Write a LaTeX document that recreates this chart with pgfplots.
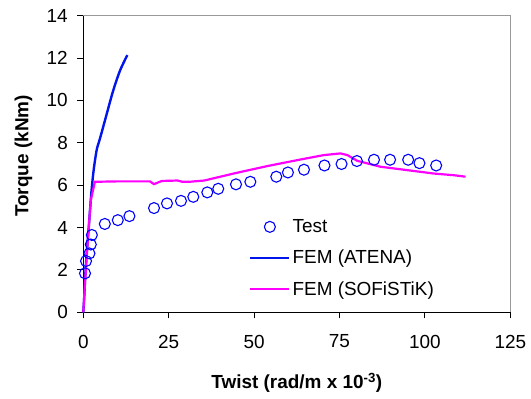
\documentclass[border=0pt]{standalone}
\usepackage{pgfplots}
\pgfplotsset{compat=1.18}
\usepackage{fontspec}
\setmainfont{Liberation Sans}
\definecolor{atena}{RGB}{0,20,235}
\definecolor{sofi}{RGB}{255,0,255}
\definecolor{testc}{RGB}{0,0,255}
\pgfplotsset{
  mylinelegend/.style={legend image code/.code={\draw[##1] plot coordinates {(0bp,0bp) (39bp,0bp)};}},
  mymarklegend/.style={legend image code/.code={\draw[mark repeat=2,mark phase=2,##1] plot coordinates {(0bp,0bp) (19.5bp,0bp) (39bp,0bp)};}},
}
\begin{document}
\begin{tikzpicture}[font=\fontsize{19}{22}\selectfont]
\begin{axis}[
  name=ax,
  scale only axis,
  width=427bp, height=296.6bp,
  xmin=0, xmax=125, ymin=0, ymax=14,
  xtick={0,25,50,75,100,125},
  ytick={0,2,4,6,8,10,12,14},
  axis lines=left,
  axis line style={-, black, line width=1.1pt},
  tick align=outside,
  major tick length=6bp,
  tick style={black, line width=1pt},
  /pgf/number format/assume math mode=true,
  xticklabel style={yshift=-13bp},
  yticklabel style={xshift=-6bp},
  xlabel={\textbf{Twist (rad/m x 10\textsuperscript{-3})}},
  ylabel={\textbf{Torque (kNm)}},
  xlabel style={at={(axis description cs:0.5,-0.238)}, anchor=center},
  ylabel style={at={(axis description cs:-0.14,0.527)}, anchor=center},
  legend style={draw=none, fill=none, at={(axis cs:48.5,2.56)}, anchor=west,
    row sep=12bp, font=\fontsize{19}{22}\selectfont, inner sep=0pt},
  legend cell align=left,
  clip=false,
]
\addplot[only marks, mark=o, mark size=5.5bp, testc, line width=1.1pt, mymarklegend]
coordinates {(0.5,1.84)(0.8,2.42)(1.8,2.78)(2.2,3.2)(2.5,3.65)(6.3,4.17)(10.1,4.35)(13.5,4.54)(20.7,4.92)(24.5,5.14)(28.6,5.26)(32.2,5.45)(36.3,5.66)(39.5,5.83)(44.7,6.04)(48.9,6.16)(56.5,6.4)(59.9,6.6)(64.6,6.73)(70.6,6.93)(75.6,7.0)(80.1,7.14)(85.1,7.2)(89.8,7.2)(95.1,7.2)(98.4,7.04)(103.3,6.93)};
\addlegendentry{Test}
\addplot[atena, line width=2.4pt, no marks, smooth, mylinelegend]
coordinates {(0,0)(0.3,0.8)(0.6,1.8)(1.0,2.8)(1.5,3.8)(2.0,4.9)(2.5,5.9)(3.1,6.8)(3.9,7.65)(4.6,8.05)(5.4,8.5)(6.9,9.39)(8.8,10.49)(10.8,11.43)(12.9,12.14)};
\addlegendentry{FEM (ATENA)}
\addplot[sofi, line width=2.2pt, no marks, mylinelegend]
coordinates {(0,0)(0.5,1.4)(1.0,2.6)(1.5,3.8)(2.2,5.3)(3.4,6.16)(10,6.18)(19.5,6.18)(20.7,6.05)(23,6.2)(27.6,6.22)(29,6.16)(31,6.16)(35.4,6.22)(40.1,6.4)(44,6.55)(53.8,6.9)(63.5,7.21)(70.4,7.42)(75.3,7.5)(77.3,7.42)(80.2,7.15)(87,6.87)(94.8,6.71)(102.6,6.55)(108.5,6.47)(111.9,6.4)};
\addlegendentry{FEM (SOFiSTiK)}
\end{axis}
\draw[gray!80, line width=1pt] (ax.north west) -- (ax.north east) -- (ax.south east);
\pgfresetboundingbox
\path ([xshift=-83.3bp,yshift=-86.7bp]ax.south west) rectangle ++(531bp,399bp);
\end{tikzpicture}
\end{document}
